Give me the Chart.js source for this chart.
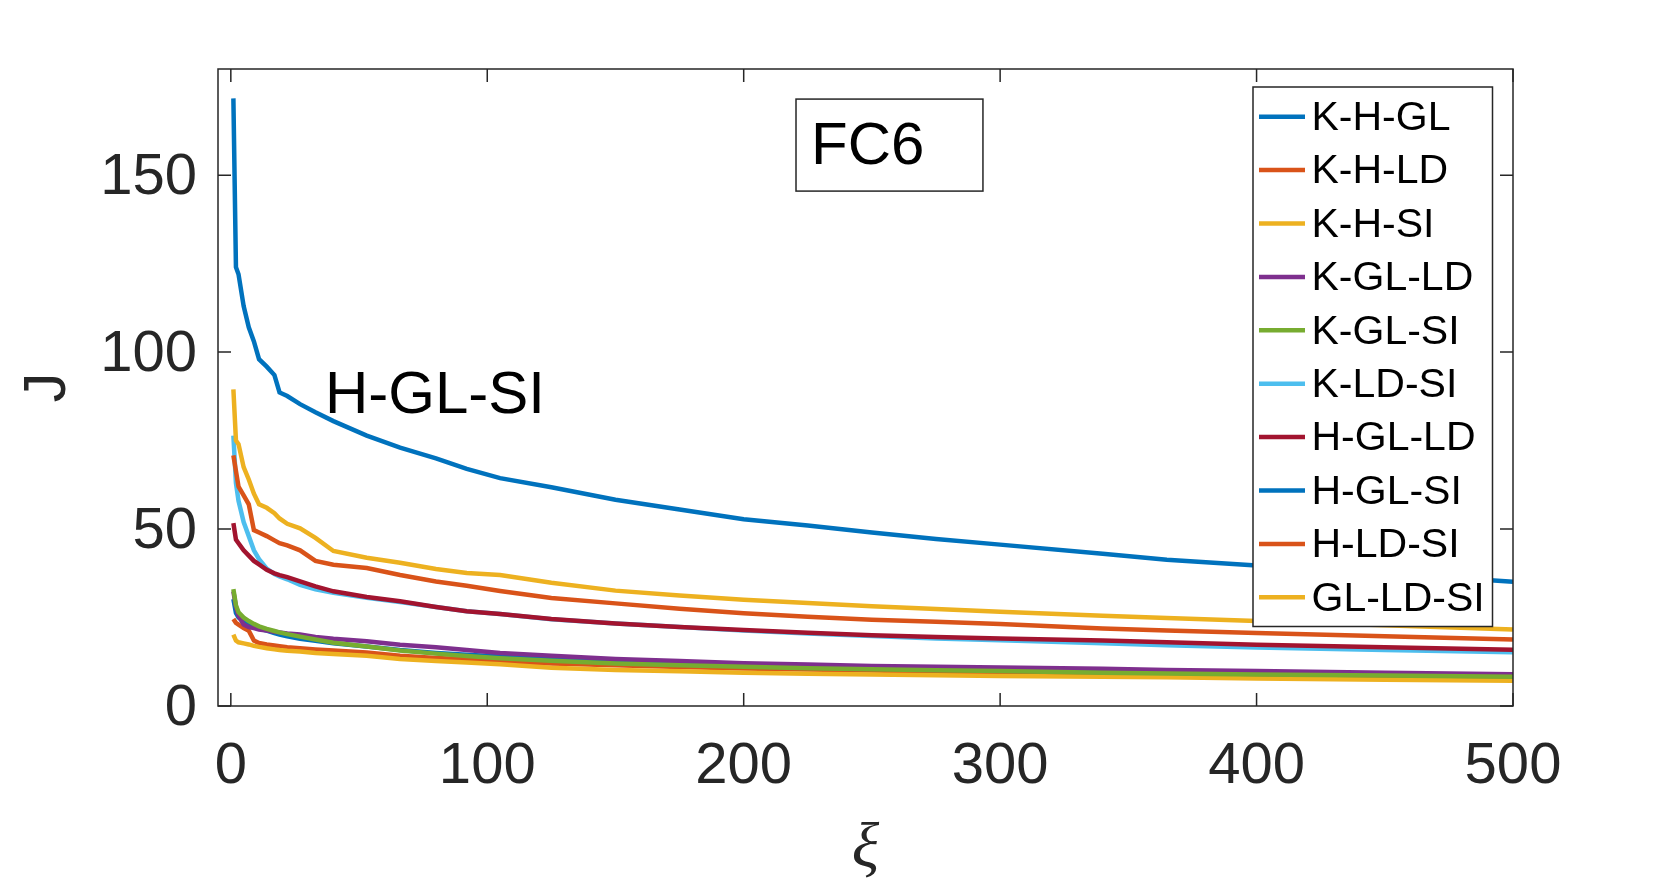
<!DOCTYPE html>
<html>
<head>
<meta charset="utf-8">
<script src="https://cdn.jsdelivr.net/npm/chart.js@4.4.1/dist/chart.umd.min.js"></script>
<style>
  html, body { margin: 0; padding: 0; background: #fff; }
  canvas { display: block; }
</style>
</head>
<body>
<canvas id="fc6Chart" width="1671" height="887"></canvas>
<script>
// sample positions along xi
const xi = [1, 2, 3, 5, 7, 9, 11, 14, 17, 19, 22, 27, 33, 40, 53, 66, 80, 92, 105, 125, 150, 175, 200, 225, 250, 275, 300, 340, 365, 400, 450, 500];

const kHGL  = [30.2, 26.3, 25, 24, 23, 22.4, 21.9, 21.3, 20.6, 20.2, 19.7, 19, 18.4, 17.7, 16.8, 15.8, 15, 14.5, 14, 13.2, 12.4, 11.9, 11.6, 11.2, 10.8, 10.5, 10.2, 9.7, 9.5, 9.2, 8.8, 8.5];
const kHLD  = [24.6, 23.5, 23, 22, 21.3, 18.5, 17.8, 17.4, 17.1, 16.9, 16.6, 16.3, 16, 15.7, 15.1, 14.2, 13.6, 13.2, 12.5, 12, 11.5, 11, 10.6, 10.3, 10, 9.7, 9.5, 9.1, 8.9, 8.6, 8.2, 7.8];
const kHSI  = [20.2, 18.5, 18, 17.7, 17.4, 17, 16.7, 16.3, 16, 15.8, 15.6, 15.4, 15, 14.7, 14.2, 13.3, 12.7, 12.3, 11.8, 10.8, 10.2, 9.8, 9.4, 9.1, 8.9, 8.7, 8.5, 8.3, 8.1, 7.8, 7.4, 7.1];
const kGLLD = [32.4, 28, 25.5, 23, 22.3, 22, 21.6, 21.3, 21, 20.8, 20.5, 20.2, 19.5, 19, 18.3, 17.3, 16.6, 15.8, 15, 14.2, 13.3, 12.7, 12.1, 11.7, 11.3, 11.1, 10.9, 10.5, 10.2, 9.9, 9.4, 9.0];
const kGLSI = [33, 28.5, 26.5, 25, 24, 23.2, 22.5, 21.8, 21.2, 20.8, 20.3, 19.6, 18.8, 17.9, 16.8, 15.7, 14.8, 14.1, 13.5, 12.8, 12, 11.5, 11.1, 10.7, 10.4, 10.1, 9.9, 9.4, 9.2, 8.9, 8.6, 8.3];
const kLDSI = [76.4, 63, 58, 52, 48, 44, 41.5, 38.8, 37.3, 36.6, 35.8, 34.2, 33, 32, 30.6, 29.4, 28, 26.8, 26, 24.5, 23.3, 22.3, 21.3, 20.5, 19.8, 19.1, 18.6, 17.7, 17.2, 16.5, 15.8, 15.2];
const hGLLD = [51.7, 47, 46, 44, 42.5, 41, 40, 38.5, 37.5, 37, 36.4, 35.2, 33.8, 32.4, 30.8, 29.6, 28, 26.8, 26, 24.6, 23.3, 22.3, 21.5, 20.7, 20, 19.5, 19.1, 18.5, 18, 17.3, 16.6, 15.9];
const hGLSI = [171.7, 124, 122, 113, 107, 103, 98, 95.9, 93.5, 88.6, 87.6, 85.3, 83, 80.5, 76.4, 73, 70, 67, 64.4, 61.8, 58.3, 55.5, 52.8, 51, 49, 47.2, 45.6, 43, 41.3, 39.7, 37.5, 35.1];
const hLDSI = [70.8, 66.4, 62, 59.5, 57, 49.7, 49, 48, 46.8, 46, 45.4, 44, 41, 39.9, 39, 37, 35.2, 34, 32.5, 30.5, 29, 27.5, 26.2, 25.2, 24.4, 23.8, 23.2, 21.9, 21.3, 20.6, 19.7, 18.8];
const glLDSI = [89.5, 75, 74, 67.5, 64, 60, 57, 56, 54.5, 53, 51.5, 50.2, 47.5, 43.8, 41.9, 40.5, 38.7, 37.6, 37, 34.8, 32.6, 31.2, 30, 29.1, 28.2, 27.4, 26.6, 25.5, 24.9, 24, 22.8, 21.6];

const seriesNames = ['K-H-GL', 'K-H-LD', 'K-H-SI', 'K-GL-LD', 'K-GL-SI', 'K-LD-SI', 'H-GL-LD', 'H-GL-SI', 'H-LD-SI', 'GL-LD-SI'];
const seriesValues = [kHGL, kHLD, kHSI, kGLLD, kGLSI, kLDSI, hGLLD, hGLSI, hLDSI, glLDSI];
const seriesColors = ['#0072BD', '#D95319', '#EDB120', '#7E2F8E', '#77AC30', '#4DBEEE', '#A2142F', '#0072BD', '#D95319', '#EDB120'];

const xTicks = [0, 100, 200, 300, 400, 500];
const yTicks = [0, 50, 100, 150];

const axisColor = '#262626';
const sans = '"Liberation Sans", Arial, Helvetica, sans-serif';

// matlab-style box: frame, inward ticks on all sides, legend and text boxes
const figureExtras = {
  id: 'figureExtras',
  beforeDraw(chart) {
    const ctx = chart.ctx;
    ctx.save();
    ctx.fillStyle = '#fff';
    ctx.fillRect(0, 0, chart.width, chart.height);
    ctx.restore();
  },
  afterDraw(chart) {
    const ctx = chart.ctx;
    const a = chart.chartArea;
    const xs = chart.scales.x;
    const ys = chart.scales.y;
    const tick = 13;
    ctx.save();
    ctx.strokeStyle = axisColor;
    ctx.lineWidth = 1.5;
    ctx.strokeRect(a.left, a.top, a.right - a.left, a.bottom - a.top);
    ctx.beginPath();
    xTicks.forEach(v => {
      const px = xs.getPixelForValue(v);
      ctx.moveTo(px, a.bottom); ctx.lineTo(px, a.bottom - tick);
      ctx.moveTo(px, a.top); ctx.lineTo(px, a.top + tick);
    });
    yTicks.forEach(v => {
      const py = ys.getPixelForValue(v);
      ctx.moveTo(a.left, py); ctx.lineTo(a.left + tick, py);
      ctx.moveTo(a.right, py); ctx.lineTo(a.right - tick, py);
    });
    ctx.stroke();

    // text label next to the top curve
    ctx.fillStyle = '#000';
    ctx.font = '60px ' + sans;
    ctx.textBaseline = 'middle';
    ctx.textAlign = 'left';
    ctx.fillText('H-GL-SI', xs.getPixelForValue(36.7), ys.getPixelForValue(87.6));

    // FC6 box
    const bx0 = xs.getPixelForValue(220.4), bx1 = xs.getPixelForValue(293.3);
    const by0 = ys.getPixelForValue(171.5), by1 = ys.getPixelForValue(145.5);
    ctx.fillStyle = '#fff';
    ctx.fillRect(bx0, by0, bx1 - bx0, by1 - by0);
    ctx.strokeRect(bx0, by0, bx1 - bx0, by1 - by0);
    ctx.fillStyle = '#000';
    ctx.font = '60px ' + sans;
    ctx.fillText('FC6', bx0 + 15, (by0 + by1) / 2 + 2);

    // legend
    const lx0 = 1253, ly0 = 87, lw = 239.5, lh = 539.5, step = 53.4;
    ctx.fillStyle = '#fff';
    ctx.fillRect(lx0, ly0, lw, lh);
    ctx.strokeRect(lx0, ly0, lw, lh);
    ctx.font = '41px ' + sans;
    chart.data.datasets.forEach((ds, i) => {
      const y = ly0 + 29.7 + i * step;
      ctx.strokeStyle = ds.borderColor;
      ctx.lineWidth = 4.5;
      ctx.beginPath();
      ctx.moveTo(lx0 + 6, y); ctx.lineTo(lx0 + 52, y);
      ctx.stroke();
      ctx.fillStyle = '#000';
      ctx.fillText(ds.label, lx0 + 58.5, y + 2);
    });
    ctx.restore();
  }
};

const datasets = seriesNames.map((name, i) => ({
  label: name,
  data: xi.map((x, j) => ({ x: x, y: seriesValues[i][j] })),
  borderColor: seriesColors[i],
  backgroundColor: seriesColors[i],
  borderWidth: 4.5,
  pointRadius: 0,
  tension: 0,
  fill: false,
  order: seriesNames.length - i
}));

const ctx = document.getElementById('fc6Chart').getContext('2d');
const chart = new Chart(ctx, {
  type: 'line',
  data: { datasets: datasets },
  options: {
    responsive: false,
    animation: false,
    devicePixelRatio: 1,
    layout: { padding: { left: 0, top: 69, right: 158, bottom: 0 } },
    plugins: { legend: { display: false }, tooltip: { enabled: false } },
    scales: {
      x: {
        type: 'linear',
        min: -5,
        max: 500,
        afterBuildTicks: s => { s.ticks = xTicks.map(v => ({ value: v })); },
        afterFit: s => { s.height = 181; },
        grid: { display: false, drawTicks: false },
        border: { display: false },
        ticks: { color: axisColor, font: { size: 58, family: sans }, padding: 26, maxRotation: 0, autoSkip: false },
        title: { display: true, text: 'ξ', color: axisColor, font: { size: 64, family: '"Liberation Serif", "DejaVu Serif", serif', style: 'italic' }, padding: { top: 0, bottom: -2 } }
      },
      y: {
        type: 'linear',
        min: 0,
        max: 180,
        afterBuildTicks: s => { s.ticks = yTicks.map(v => ({ value: v })); },
        afterFit: s => { s.width = 218; },
        grid: { display: false, drawTicks: false },
        border: { display: false },
        ticks: { color: axisColor, font: { size: 58, family: sans }, padding: 21, labelOffset: 3 },
        title: { display: true, text: 'J', color: axisColor, font: { size: 60, family: sans }, padding: { top: 12, bottom: 0 } }
      }
    }
  },
  plugins: [figureExtras]
});
</script>
</body>
</html>
